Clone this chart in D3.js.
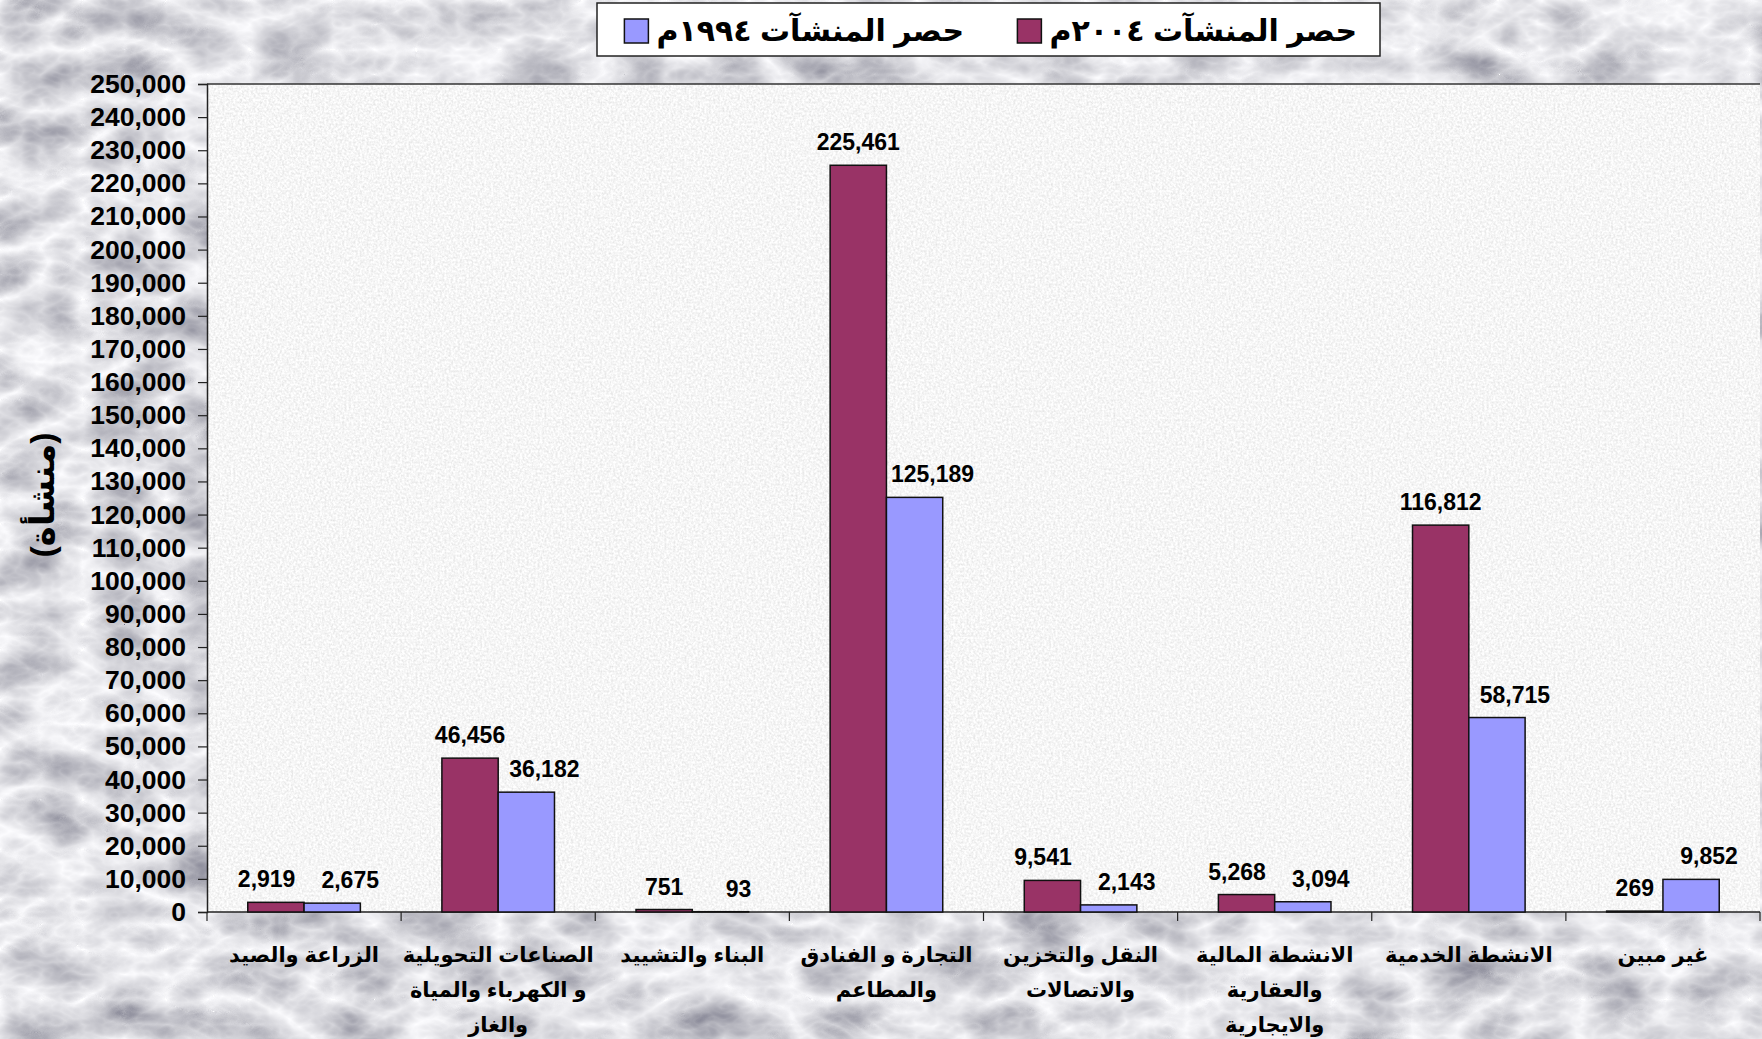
<!DOCTYPE html>
<html>
<head>
<meta charset="utf-8">
<script src="https://cdn.jsdelivr.net/npm/d3@7"></script>
<style>
  body { margin: 0; background: #dcdde0; overflow: hidden; }
  svg { display: block; }
  text { font-family: "Liberation Sans", Arial, "DejaVu Sans", sans-serif; font-weight: bold; fill: #000; }
</style>
</head>
<body>
<div id="chart"></div>
<script>
// data
var categories = [
  ["الزراعة والصيد"],
  ["الصناعات  التحويلية", "و الكهرباء والمياة", "والغاز"],
  ["البناء والتشييد"],
  ["التجارة و الفنادق", "والمطاعم"],
  ["النقل والتخزين", "والاتصالات"],
  ["الانشطة المالية", "والعقارية", "والايجارية"],
  ["الانشطة الخدمية"],
  ["غير مبين"]
];
var series = ["حصر المنشآت ٢٠٠٤م", "حصر المنشآت ١٩٩٤م"];
var values2004 = [2919, 46456, 751, 225461, 9541, 5268, 116812, 269];
var values1994 = [2675, 36182, 93, 125189, 2143, 3094, 58715, 9852];
var yTicks = d3.range(0, 250001, 10000);
var yLabel = "(منشأة)";
var colors = ["#993366", "#9999ff"];

var W = 1762, H = 1039;
var margin = {top: 84, right: 2, bottom: 127, left: 207},
    width = W - margin.left - margin.right,
    height = H - margin.top - margin.bottom;

var svg = d3.select("#chart")
  .append("svg")
    .attr("width", W)
    .attr("height", H);

// marble background + speckled plot area
var defs = svg.append("defs");
var marble = defs.append("filter").attr("id", "marble")
  .attr("x", 0).attr("y", 0).attr("width", 1).attr("height", 1);
marble.append("feTurbulence")
  .attr("type", "turbulence")
  .attr("baseFrequency", "0.012 0.02")
  .attr("numOctaves", 4)
  .attr("seed", 11);
marble.append("feColorMatrix")
  .attr("type", "matrix")
  .attr("values", "-0.85 0 0 0 1.0  -0.85 0 0 0 1.0  -0.8 0 0 0 1.02  0 0 0 0 1");

var speckle = defs.append("filter").attr("id", "speckle")
  .attr("x", 0).attr("y", 0).attr("width", 1).attr("height", 1);
speckle.append("feTurbulence")
  .attr("type", "fractalNoise")
  .attr("baseFrequency", 0.45)
  .attr("numOctaves", 2)
  .attr("seed", 3);
speckle.append("feColorMatrix")
  .attr("type", "matrix")
  .attr("values", "0.4 0 0 0 0.72  0.4 0 0 0 0.72  0.4 0 0 0 0.72  0 0 0 0 1");

svg.append("rect")
  .attr("width", W).attr("height", H)
  .attr("filter", "url(#marble)");

var g = svg.append("g")
  .attr("transform", "translate(" + margin.left + "," + margin.top + ")");

g.append("rect")
  .attr("width", width).attr("height", height)
  .attr("filter", "url(#speckle)");

// scales
var x0 = d3.scaleBand()
  .domain(d3.range(categories.length))
  .range([0, width])
  .padding(0);

var x1 = d3.scaleBand()
  .domain([0, 1])
  .range([x0.bandwidth() * 0.21, x0.bandwidth() * 0.79])
  .padding(0);

var y = d3.scaleLinear()
  .domain([0, 250000])
  .range([height, 0]);

// plot frame
g.append("line")
  .attr("x1", 0).attr("x2", width)
  .attr("y1", 0).attr("y2", 0)
  .attr("stroke", "#333").attr("stroke-width", 1.5);

// y axis
var yAxis = g.append("g")
  .call(d3.axisLeft(y).tickValues(yTicks).tickFormat(d3.format(",")).tickSize(9).tickPadding(12));
yAxis.select(".domain").attr("stroke", "#222").attr("stroke-width", 1.5);
yAxis.selectAll(".tick line").attr("stroke", "#222").attr("stroke-width", 1.2);
yAxis.selectAll("text")
  .style("font-size", "26.5px")
  .style("font-weight", "bold")
  .style("font-family", "'Liberation Sans', Arial, sans-serif")
  .attr("fill", "#000");

// x axis: ticks at category boundaries
var xAxis = g.append("g")
  .attr("transform", "translate(0," + height + ")");
xAxis.append("line")
  .attr("x1", 0).attr("x2", width)
  .attr("stroke", "#222").attr("stroke-width", 1.5);
xAxis.selectAll(".sep")
  .data(d3.range(categories.length + 1))
  .join("line")
    .attr("class", "sep")
    .attr("x1", d => d < categories.length ? x0(d) : width)
    .attr("x2", d => d < categories.length ? x0(d) : width)
    .attr("y1", 0).attr("y2", 9)
    .attr("stroke", "#222").attr("stroke-width", 1.2);

// category labels
var catG = xAxis.selectAll(".cat")
  .data(categories)
  .join("text")
    .attr("class", "cat")
    .attr("direction", "rtl")
    .attr("text-anchor", "middle")
    .attr("x", (d, i) => x0(i) + x0.bandwidth() / 2)
    .attr("y", 50)
    .style("font-size", "21px");
catG.selectAll("tspan")
  .data(d => d)
  .join("tspan")
    .attr("x", function() { return d3.select(this.parentNode).attr("x"); })
    .attr("dy", (d, i) => i === 0 ? 0 : 35)
    .text(d => d);

// bars
var rows = categories.map((c, i) => [values2004[i], values1994[i]]);
var groups = g.selectAll(".grp")
  .data(rows)
  .join("g")
    .attr("class", "grp")
    .attr("transform", (d, i) => "translate(" + x0(i) + ",0)");

groups.selectAll("rect")
  .data(d => d)
  .join("rect")
    .attr("x", (d, j) => x1(j))
    .attr("y", d => y(d))
    .attr("width", x1.bandwidth())
    .attr("height", d => height - y(d))
    .attr("fill", (d, j) => colors[j])
    .attr("stroke", "#111")
    .attr("stroke-width", 1.5);

// value labels: 1994 labels sit a bit right of their bar,
// 2004 labels move left when they would touch them
groups.selectAll(".val")
  .data(d => d)
  .join("text")
    .attr("class", "val")
    .attr("text-anchor", "middle")
    .attr("x", (d, j) => x1(j) + x1.bandwidth() / 2 + (j === 1 ? 18 : 0))
    .attr("y", d => y(d) - 15)
    .style("font-size", "23px")
    .text(d => d3.format(",")(d));

groups.each(function() {
  var labels = d3.select(this).selectAll(".val").nodes();
  var a = labels[0].getBBox(), b = labels[1].getBBox();
  var vOverlap = a.y < b.y + b.height && b.y < a.y + a.height;
  var gap = b.x - (a.x + a.width);
  if (vOverlap && gap < 26) {
    d3.select(labels[0]).attr("x", +d3.select(labels[0]).attr("x") - (26 - gap));
  }
});

// y axis title
svg.append("text")
  .attr("direction", "rtl")
  .attr("text-anchor", "middle")
  .attr("transform", "translate(54,495) rotate(-90)")
  .style("font-size", "34px")
  .text(yLabel);

// legend
var legend = svg.append("g");
legend.append("rect")
  .attr("x", 597).attr("y", 3)
  .attr("width", 783).attr("height", 53)
  .attr("fill", "#fff")
  .attr("stroke", "#222").attr("stroke-width", 1.5);

var legendX = [1357, 964];
series.forEach((s, j) => {
  legend.append("text")
    .attr("direction", "rtl")
    .attr("text-anchor", "start")
    .attr("x", legendX[j])
    .attr("y", 41)
    .style("font-size", "30px")
    .text(s);
});
// swatches go just left of each text
legend.selectAll("text").each(function(d, j) {
  var bb = this.getBBox();
  legend.append("rect")
    .attr("x", bb.x - 32).attr("y", 19)
    .attr("width", 24).attr("height", 24)
    .attr("fill", colors[j])
    .attr("stroke", "#111").attr("stroke-width", 1.5);
});
</script>
</body>
</html>
